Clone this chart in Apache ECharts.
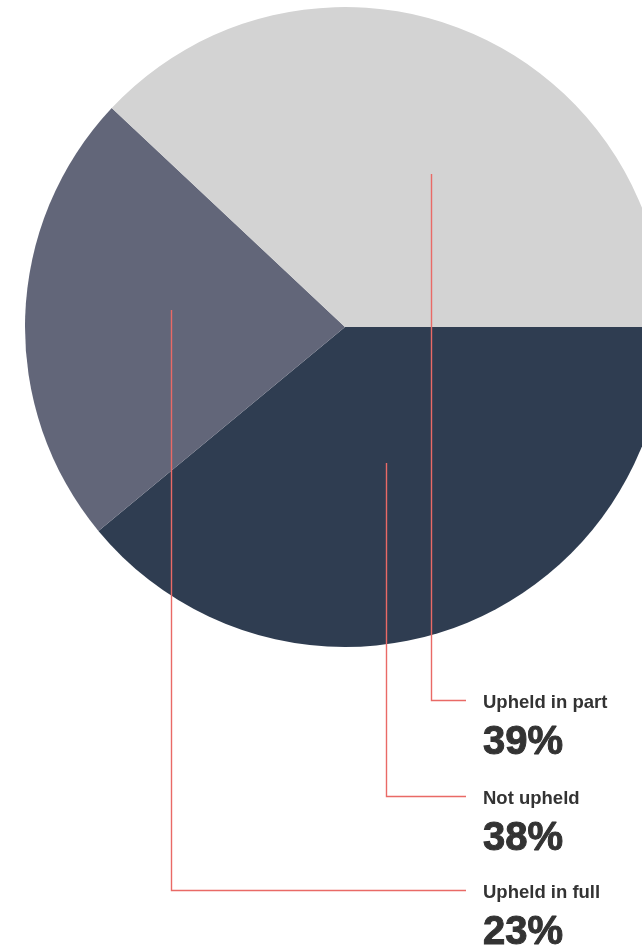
<!DOCTYPE html>
<html>
<head>
<meta charset="utf-8">
<script src="https://cdn.jsdelivr.net/npm/echarts@6/dist/echarts.min.js"></script>
<style>
html,body{margin:0;padding:0;background:#fff;}
#chart{width:642px;height:949px;}
</style>
</head>
<body>
<div id="chart"></div>
<script>
// slices as drawn, clockwise from 3 o'clock
const sliceNames = ['Not upheld', 'Upheld in full', 'Upheld in part'];
const sliceValues = [39, 23, 38];
const sliceColors = ['#2f3d51', '#626679', '#d3d3d3'];

// callout labels as printed
const labelNames = ['Upheld in part', 'Not upheld', 'Upheld in full'];
const labelPcts = ['39%', '38%', '23%'];

// layout of callouts (leader-line anchors inside slices, row baselines)
const anchors = {'Upheld in part': [431, 174], 'Not upheld': [386, 463], 'Upheld in full': [171, 310]};
const rowY = {'Upheld in part': 700, 'Not upheld': 796, 'Upheld in full': 890};

const pieData = sliceNames.map((n, i) => ({name: n, value: sliceValues[i]}));
const common = {
  type: 'pie',
  center: [345, 327],
  radius: 320,
  startAngle: 0,
  clockwise: true,
  silent: true,
  avoidLabelOverlap: false,
  emphasis: {disabled: true}
};

const chart = echarts.init(document.getElementById('chart'), null, {renderer: 'canvas'});
chart.setOption({
  animation: false,
  series: [
    Object.assign({}, common, {
      z: 2,
      data: pieData.map((d, i) => Object.assign({}, d, {itemStyle: {color: sliceColors[i]}})),
      label: {show: false},
      labelLine: {show: false}
    }),
    Object.assign({}, common, {
      z: 5,
      data: pieData.map(d => Object.assign({}, d, {itemStyle: {color: 'rgba(0,0,0,0)'}})),
      label: {
        show: true,
        position: 'outside',
        formatter: p => {
          const k = labelNames.indexOf(p.name);
          return '{n|' + labelNames[k] + '}\n{p|' + labelPcts[k] + '}';
        },
        rich: {
          n: {fontFamily: 'Liberation Sans, Arial, sans-serif', fontWeight: 'bold', fontSize: 18.5, color: '#333', lineHeight: 60},
          p: {fontFamily: 'Liberation Sans, Arial, sans-serif', fontWeight: 'bold', fontSize: 40, color: '#333', lineHeight: 20,
              textBorderColor: '#333', textBorderWidth: 1}
        }
      },
      labelLine: {show: true, lineStyle: {color: '#e96a66', width: 1.4}},
      labelLayout: function (params) {
        const name = sliceNames[params.dataIndex];
        const a = anchors[name];
        const y = rowY[name];
        return {
          x: 483,
          y: y + 3 - 30,
          align: 'left',
          verticalAlign: 'top',
          hideOverlap: false,
          labelLinePoints: [[a[0] + 0.5, a[1]], [a[0] + 0.5, y + 0.5], [466, y + 0.5]]
        };
      }
    })
  ]
});
</script>
</body>
</html>
